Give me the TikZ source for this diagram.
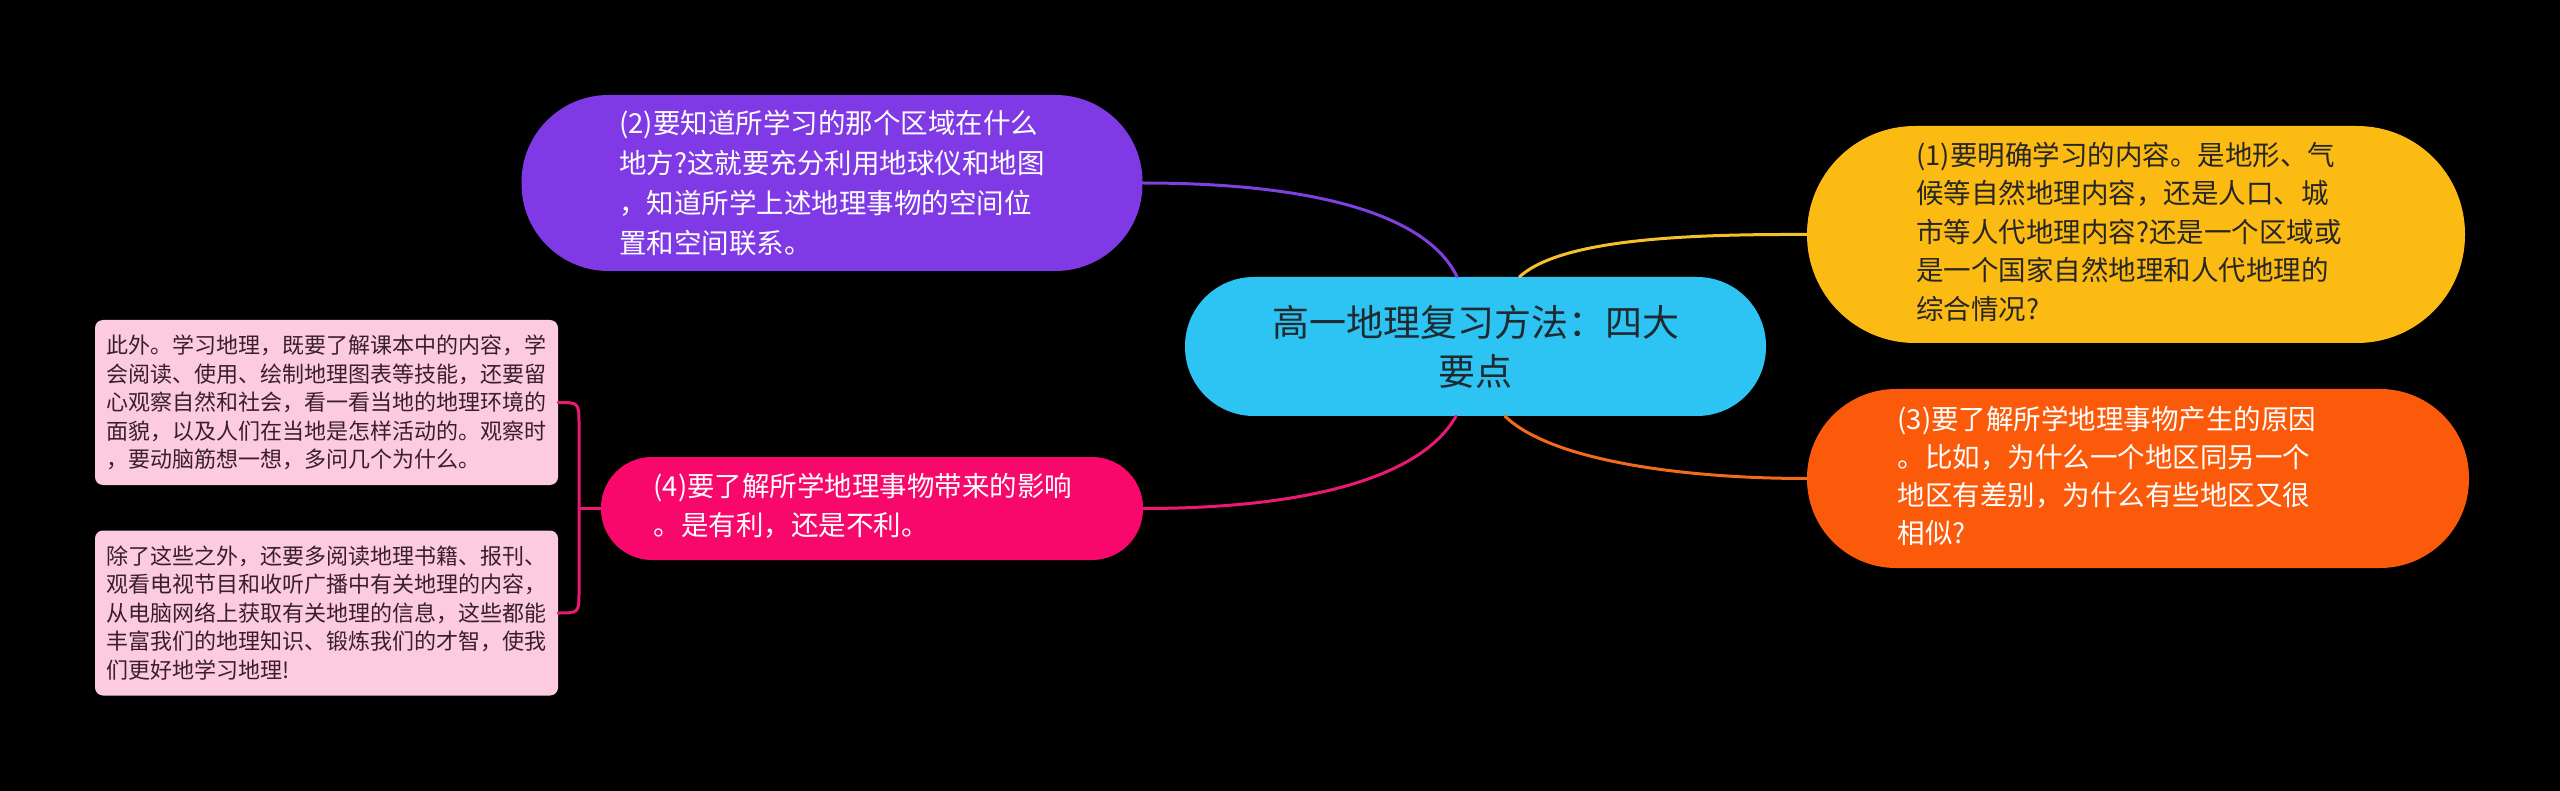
\documentclass[tikz,border=0pt]{standalone}
\usepackage{fontspec}
\setmainfont{Noto Sans CJK SC}
\usetikzlibrary{calc}
\definecolor{cpurple}{HTML}{7F3AE6}
\definecolor{cyellow}{HTML}{FCBB12}
\definecolor{corange}{HTML}{FB5A0B}
\definecolor{cpink}{HTML}{F7086A}
\definecolor{ccyan}{HTML}{2DC4F4}
\definecolor{leafpink}{HTML}{FDCBE0}
\definecolor{leaftext}{HTML}{3A1F2B}
\definecolor{darktext}{HTML}{262626}
\definecolor{roottext}{HTML}{1E2A30}
\definecolor{lpurple}{HTML}{8040E0}
\definecolor{lyellow}{HTML}{F5C12B}
\definecolor{lorange}{HTML}{F26A1B}
\definecolor{lpink}{HTML}{EC1875}
\tikzset{
  pill/.style={rounded corners=#1, inner sep=0pt},
  btext/.style={align=left, font=\fontsize{27.5}{40}\selectfont},
  leafbox/.style={fill=leafpink, rounded corners=8pt, minimum width=463pt, minimum height=165pt,
    inner sep=0pt, align=left, text=leaftext, font=\fontsize{22}{28.5}\selectfont},
  conn/.style={line width=3pt, line cap=round},
}
\begin{document}
\begin{tikzpicture}[x=1pt,y=-1pt]
\fill[black] (0,0) rectangle (2560,791);
\useasboundingbox (0,0) rectangle (2560,791);

\node[pill=69pt, fill=ccyan, minimum width=581pt, minimum height=139pt, align=center,
  text=roottext, font=\fontsize{37}{49}\selectfont] (root) at (1475.5,346.5)
  {高一地理复习方法：四大\\要点};

\node[pill=87pt, fill=cpurple, minimum width=621pt, minimum height=176pt, btext, text=white]
  (n2) at (832,183)
  {(2)要知道所学习的那个区域在什么\\地方?这就要充分利用地球仪和地图\\，知道所学上述地理事物的空间位\\置和空间联系。};

\node[pill=108pt, fill=cyellow, minimum width=658pt, minimum height=217pt, text=darktext,
  font=\fontsize{27.5}{38.5}\selectfont]
  (n1) at (2136,234.5)
  {\begin{tabular}{@{}l@{\hspace{14pt}}}(1)要明确学习的内容。是地形、气\\候等自然地理内容，还是人口、城\\市等人代地理内容?还是一个区域或\\是一个国家自然地理和人代地理的\\综合情况?\end{tabular}};

\node[pill=89pt, fill=corange, minimum width=662pt, minimum height=179pt, text=white,
  font=\fontsize{27.5}{38}\selectfont]
  (n3) at (2138,478.5)
  {\begin{tabular}{@{}l@{\hspace{62pt}}}(3)要了解所学地理事物产生的原因\\。比如，为什么一个地区同另一个\\地区有差别，为什么有些地区又很\\相似?\end{tabular}};

\node[pill=51pt, fill=cpink, minimum width=542pt, minimum height=103pt, text=white,
  font=\fontsize{27.5}{39}\selectfont]
  (n4) at (872,508.5)
  {\begin{tabular}{@{}l@{\hspace{18pt}}}(4)要了解所学地理事物带来的影响\\。是有利，还是不利。\end{tabular}};

\node[leafbox] (l1) at (326.5,402.5)
  {此外。学习地理，既要了解课本中的内容，学\\会阅读、使用、绘制地理图表等技能，还要留\\心观察自然和社会，看一看当地的地理环境的\\面貌，以及人们在当地是怎样活动的。观察时\\，要动脑筋想一想，多问几个为什么。};

\node[leafbox] (l2) at (326.5,613)
  {除了这些之外，还要多阅读地理书籍、报刊、\\观看电视节目和收听广播中有关地理的内容，\\从电脑网络上获取有关地理的信息，这些都能\\丰富我们的地理知识、锻炼我们的才智，使我\\们更好地学习地理!};

% connectors from root
\draw[conn, draw=lpurple] (n2.east) .. controls (1330,183) and (1430,220) .. ([xshift=-18.5pt]root.north);
\draw[conn, draw=lyellow] ([xshift=44pt]root.north) .. controls (1560,240) and (1680,234) .. (n1.west);
\draw[conn, draw=lorange] ([xshift=29.5pt]root.south) .. controls (1550,460) and (1680,478.5) .. (n3.west);
\draw[conn, draw=lpink] ([xshift=-19.5pt]root.south) .. controls (1420,480) and (1300,508.5) .. (n4.east);

% bracket to leaves
\coordinate (bt) at (579,425);
\coordinate (bb) at (579,591);
\coordinate (bj) at (579,508.5);
\draw[conn, draw=lpink] (l1.east) .. controls (579,402.5) .. (bt) -- (bb) .. controls (579,613) .. (l2.east);
\draw[conn, draw=lpink] (bj) -- (n4.west);
\end{tikzpicture}
\end{document}
